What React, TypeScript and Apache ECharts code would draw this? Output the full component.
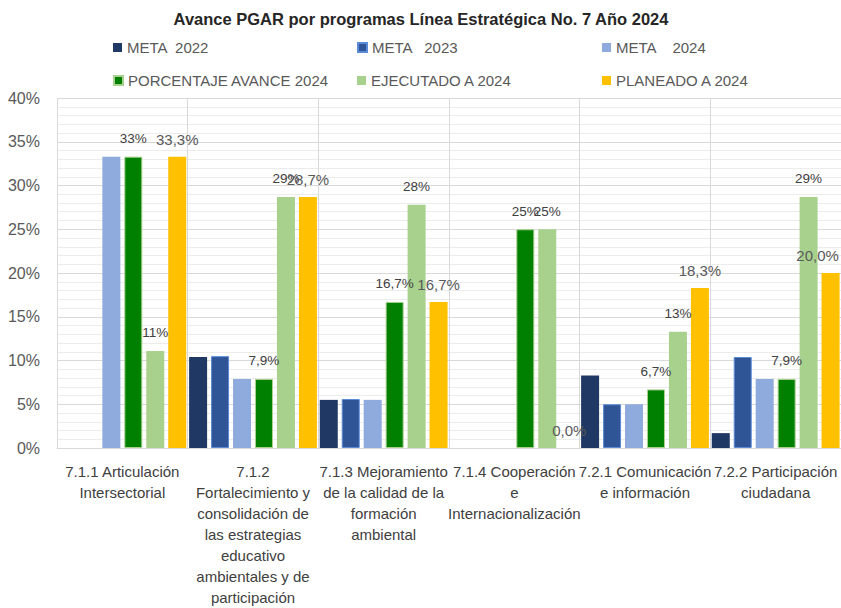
import React, { useEffect, useRef } from "react";
import * as echarts from "echarts";

const categories = [
  "7.1.1 Articulación\nIntersectorial",
  "7.1.2\nFortalecimiento y\nconsolidación de\nlas estrategias\neducativo\nambientales y de\nparticipación",
  "7.1.3 Mejoramiento\nde la calidad de la\nformación\nambiental",
  "7.1.4 Cooperación\ne\nInternacionalización",
  "7.2.1 Comunicación\ne información",
  "7.2.2 Participación\nciudadana",
];

const seriesNames = [
  "META  2022",
  "META   2023",
  "META    2024",
  "PORCENTAJE AVANCE 2024",
  "EJECUTADO A 2024",
  "PLANEADO A 2024",
];

const meta2022 = [null, 10.4, 5.5, null, 8.3, 1.7];
const meta2023 = [null, 10.5, 5.6, null, 5.0, 10.4];
const meta2024 = [33.3, 7.9, 5.5, null, 5.0, 7.9];
const porcentaje = [33.3, 7.9, 16.7, 25.0, 6.7, 7.9];
const ejecutado = [11.1, 28.7, 27.8, 25.0, 13.3, 28.7];
const planeado = [33.3, 28.7, 16.7, 0.0, 18.3, 20.0];

const porcentajeLabels = ["33%", "7,9%", "16,7%", "25%", "6,7%", "7,9%"];
const ejecutadoLabels = ["11%", "29%", "28%", "25%", "13%", "29%"];
const planeadoLabels = ["33,3%", "28,7%", "16,7%", "0,0%", "18,3%", "20,0%"];

const yTicks = { min: 0, max: 40, interval: 5 };

const colors = ["#203864", "#2f5597", "#8faadc", "#008000", "#a9d18e", "#ffc000"];

const FONT = "'Liberation Sans Narrow', 'Arial Narrow', 'Liberation Sans', Arial, sans-serif";

export default function App() {
  const ref = useRef<HTMLDivElement>(null);
  useEffect(() => {
    if (!ref.current) return;
    const chart = echarts.init(ref.current, undefined, { renderer: "svg" });
    const values = [meta2022, meta2023, meta2024, porcentaje, ejecutado, planeado];
    const labelSets: (string[] | null)[] = [null, null, null, porcentajeLabels, ejecutadoLabels, planeadoLabels];
    const borders = [null, "#5b8bd6", null, "#a9d18e", null, null];
    const legendPos = [
      { left: 113, top: 40 },
      { left: 357, top: 40 },
      { left: 602, top: 40 },
      { left: 113, top: 73 },
      { left: 357, top: 73 },
      { left: 602, top: 73 },
    ];
    const series = seriesNames.map((name, i) => {
      const labels = labelSets[i];
      const isPlan = i === 5;
      const n = values[i].length;
      return {
        name,
        type: "bar",
        barWidth: 18,
        barGap: "22%",
        itemStyle: {
          color: colors[i],
          borderColor: borders[i] || colors[i],
          borderWidth: borders[i] ? 1 : 0,
        },
        data: values[i].map((v, j) => {
          const item: any = { value: v === null ? "-" : v };
          // last label on the right edge is pulled inward so it stays visible
          if (isPlan && j === n - 1) item.label = { offset: [-13, 0] };
          return item;
        }),
        label: labels
          ? {
              show: true,
              position: "top",
              distance: isPlan ? 10 : 11,
              fontFamily: FONT,
              fontSize: isPlan ? 15 : 13.5,
              color: isPlan ? "#595959" : "#404040",
              formatter: (p: any) => labels[p.dataIndex],
            }
          : { show: false },
      };
    });
    chart.setOption({
      animation: false,
      color: colors,
      textStyle: { fontFamily: FONT },
      title: {
        text: "Avance PGAR por programas Línea Estratégica No. 7 Año 2024",
        left: 416,
        textAlign: "center",
        top: 5,
        textStyle: { fontFamily: FONT, fontSize: 16.5, fontWeight: "bold", color: "#262626" },
      },
      legend: seriesNames.map((name, i) => ({
        data: [name],
        left: legendPos[i].left,
        top: legendPos[i].top,
        padding: 0,
        icon: "rect",
        itemWidth: 9,
        itemHeight: 9,
        selectedMode: false,
        textStyle: { fontFamily: FONT, fontSize: 15, color: "#595959" },
      })),
      grid: { left: 57, top: 98, width: 787, height: 353, containLabel: false },
      xAxis: {
        type: "category",
        data: categories,
        axisTick: { show: false },
        axisLine: { lineStyle: { color: "#d9d9d9" } },
        splitLine: { show: true, lineStyle: { color: "#d9d9d9" } },
        axisLabel: {
          interval: 0,
          fontFamily: FONT,
          fontSize: 15,
          lineHeight: 21,
          color: "#404040",
          margin: 13,
        },
      },
      yAxis: {
        type: "value",
        min: yTicks.min,
        max: yTicks.max,
        interval: yTicks.interval,
        axisLabel: {
          formatter: "{value}%",
          fontFamily: FONT,
          fontSize: 16,
          color: "#595959",
          margin: 17,
        },
        axisLine: { show: false },
        axisTick: { show: false },
        splitLine: { lineStyle: { color: "#d9d9d9" } },
        minorTick: { show: false, splitNumber: 5 },
        minorSplitLine: { show: true, lineStyle: { color: "#ececec" } },
      },
      series,
    });
    return () => chart.dispose();
  }, []);
  return (
    <div
      ref={ref}
      style={{ position: "absolute", left: 0, top: 0, width: 841, height: 608, background: "#fff" }}
    />
  );
}
